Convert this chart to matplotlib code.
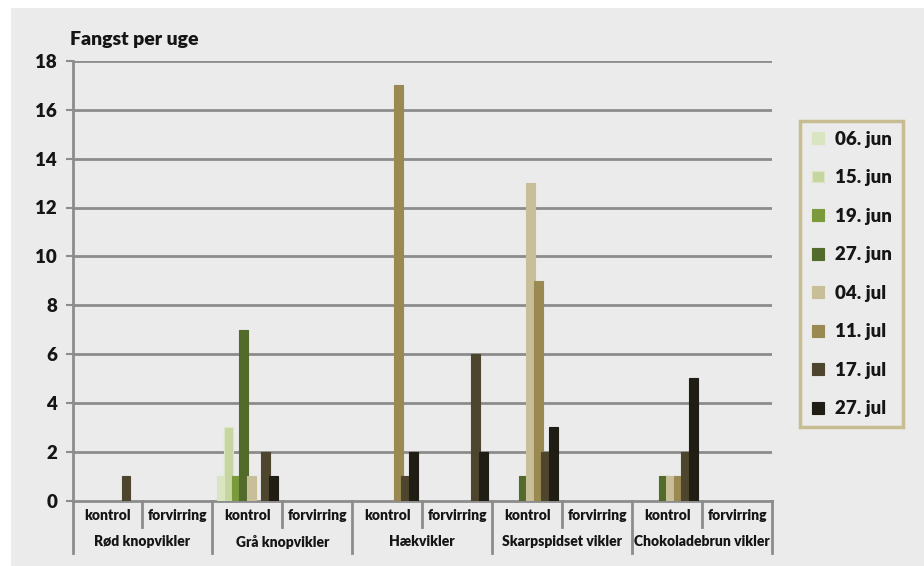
import matplotlib
matplotlib.use("Agg")
import matplotlib.pyplot as plt
from matplotlib.patches import Rectangle, Patch
from matplotlib.lines import Line2D
import numpy as np

plt.rcParams['font.family'] = ['Lato', 'DejaVu Sans']
WT = 'heavy'
plt.rcParams['font.weight'] = WT

groups = ["Rød knopvikler", "Grå knopvikler", "Hækvikler", "Skarpspidset vikler", "Chokoladebrun vikler"]
subcats = ["kontrol", "forvirring"]
series = ["06. jun", "15. jun", "19. jun", "27. jun", "04. jul", "11. jul", "17. jul", "27. jul"]
colors = ["#D9E4C1", "#C6D6A0", "#7A9A3C", "#526A2A", "#C8BF98", "#9A8A52", "#4D452D", "#201D14"]
edges = ["#D9E4C1", "#DCE6C4", "#7A9A3C", "#526A2A", "#C8BF98", "#9A8A52", "#4D452D", "#201D14"]

# values per series for the 10 categories (group x subcat)
v_06jun = [0, 0, 1, 0, 0, 0, 0, 0, 0, 0]
v_15jun = [0, 0, 3, 0, 0, 0, 0, 0, 0, 0]
v_19jun = [0, 0, 1, 0, 0, 0, 0, 0, 0, 0]
v_27jun = [0, 0, 7, 0, 0, 0, 1, 0, 1, 0]
v_04jul = [0, 0, 1, 0, 0, 0, 13, 0, 1, 0]
v_11jul = [0, 0, 0, 0, 17, 0, 9, 0, 1, 0]
v_17jul = [1, 0, 2, 0, 1, 6, 2, 0, 2, 0]
v_27jul = [0, 0, 1, 0, 2, 2, 3, 0, 5, 0]
values = [v_06jun, v_15jun, v_19jun, v_27jun, v_04jul, v_11jul, v_17jul, v_27jul]

yticks = list(range(0, 19, 2))

bg = "#EAEBEA"
grid = "#8C8C8C"
txt = "#151515"
W, H = 924, 566
fig = plt.figure(figsize=(W / 100, H / 100), dpi=100)
fig.patch.set_facecolor("white")
fig.patches.append(Rectangle((11 / W, 0), 1 - 11 / W, 1 - 8 / H, transform=fig.transFigure,
                             facecolor=bg, edgecolor="none", zorder=-10))

ax = fig.add_axes([72.5 / W, 65.5 / H, (772 - 72.5) / W, (500.5 - 61) / H])
ax.set_facecolor(bg)

n = len(groups) * len(subcats)
x = np.arange(n)
step = 0.106
bw = 0.128
for i, (vals, c, ec) in enumerate(zip(values, colors, edges)):
    xs = x + (i - 3.5) * step
    mask = np.array(vals) > 0
    ax.bar(xs[mask], np.array(vals)[mask], width=bw, color=c, edgecolor=ec, linewidth=0.8, zorder=3)

ax.set_xlim(-0.5, n - 0.5)
ax.set_ylim(0, 18)
ax.set_yticks(yticks)
ax.set_yticklabels([str(t) for t in yticks], fontsize=13.5, fontweight=WT, color=txt)
ax.tick_params(axis='y', length=5, width=1.5, color=grid, pad=6)
ax.set_xticks([])
for t in yticks[1:]:
    ax.axhline(t, color=grid, lw=2, zorder=1)
for s in ["top", "right"]:
    ax.spines[s].set_visible(False)
ax.spines["left"].set_color(grid)
ax.spines["left"].set_linewidth(2)
ax.spines["bottom"].set_color(grid)
ax.spines["bottom"].set_linewidth(2)

tr = ax.get_xaxis_transform()
axh = 500.5 - 61
row1 = -(516 - 500.5) / axh
row2 = -(542 - 500.5) / axh
sub_end = -(527 - 500.5) / axh
grp_end = -(553 - 500.5) / axh
for k in range(n):
    ax.text(k, row1, subcats[k % 2], transform=tr, ha="center", va="center",
            fontsize=10, fontweight=WT, color=txt)
for g, name in enumerate(groups):
    ax.text(2 * g + 0.5, row2, name, transform=tr, ha="center", va="center",
            fontsize=10, fontweight=WT, color=txt)
for g in range(len(groups)):
    ax.add_line(Line2D([2 * g + 0.5] * 2, [0, sub_end], transform=tr, color=grid, lw=2, clip_on=False))
for g in range(len(groups) + 1):
    ax.add_line(Line2D([2 * g - 0.5] * 2, [0, grp_end], transform=tr, color=grid, lw=2, clip_on=False))

fig.text(70 / W, 1 - 40 / H, "Fangst per uge", ha="left", va="center", fontsize=14,
         fontweight=WT, color=txt)

# legend box
fig.patches.append(Rectangle((800 / W, 1 - 427 / H), 103 / W, 306 / H, transform=fig.transFigure,
                             facecolor=bg, edgecolor="#C8BD92", lw=2.5, zorder=5))
handles = [Patch(facecolor=c, edgecolor=ec, lw=0.8) for c, ec in zip(colors, edges)]
leg = fig.legend(handles, series, loc="center", bbox_to_anchor=(852 / W, 1 - 274 / H),
                 frameon=False, handlelength=0.6, handleheight=0.6, handletextpad=0.6,
                 labelspacing=1.15, prop={'size': 13.5, 'weight': WT})
leg.set_zorder(6)
for t in leg.get_texts():
    t.set_color(txt)

fig.savefig("out.png", dpi=100, facecolor=fig.get_facecolor())
